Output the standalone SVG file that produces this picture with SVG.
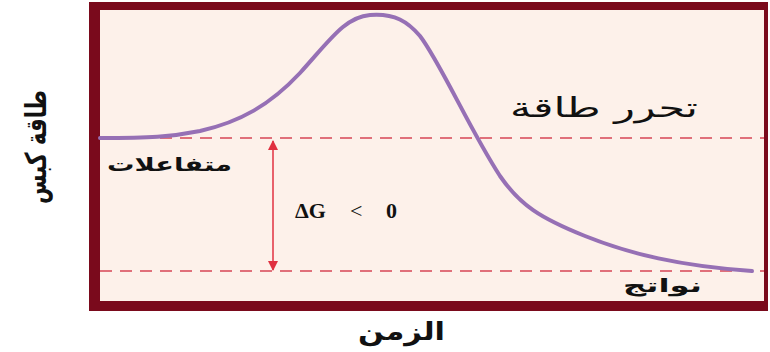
<svg xmlns="http://www.w3.org/2000/svg" width="770" height="352" viewBox="0 0 770 352">
<defs>
<style>
.ar{font-family:"DejaVu Sans","Noto Sans",sans-serif;font-weight:bold;fill:#111}
.dash{stroke:#E0707A;stroke-width:2;stroke-dasharray:12 8;fill:none}
</style>
<marker id="ah" viewBox="0 0 10 10" refX="9" refY="5" markerWidth="10" markerHeight="10" markerUnits="userSpaceOnUse" orient="auto-start-reverse">
<path d="M0,0 L10,5 L0,10 z" fill="#E03040"/>
</marker>
</defs>
<rect width="770" height="352" fill="#fff"/>
<g id="frame">
<rect x="100" y="10" width="664" height="291" fill="#FDF1EA"/>
<path d="M89,2 H768 V311 H89 Z M100,10 V301 H764 V10 Z" fill="#7A0A1C" fill-rule="evenodd"/>
</g>
<g id="levels">
<line class="dash" x1="100" y1="138" x2="764" y2="138"/>
<line class="dash" x1="100" y1="271" x2="764" y2="271"/>
</g>
<g id="curve">
<path d="M100,138 C150,138 170,137 200,131 C240,122 270,105 300,73 C330,40 345,17 370,15 C395,13 408,22 420,36 C440,62 470,130 500,176 C520,205 540,218 585,236 C630,254 680,266 752,271" fill="none" stroke="#9670B5" stroke-width="4" stroke-linecap="round"/>
</g>
<g id="connectors">
<line x1="273" y1="141" x2="273" y2="270" stroke="#E03040" stroke-width="1.5" marker-start="url(#ah)" marker-end="url(#ah)"/>
</g>
<g id="labels">
<text class="ar" x="510" y="117" font-size="27" textLength="188" lengthAdjust="spacingAndGlyphs" style="font-weight:normal">تحرر طاقة</text>
<text class="ar" x="107" y="171" font-size="19" textLength="125" lengthAdjust="spacingAndGlyphs">متفاعلات</text>
<text y="218" font-family="Liberation Serif,serif" font-weight="bold" font-size="22" fill="#111"><tspan x="295">ΔG</tspan><tspan x="350" font-weight="normal">&lt;</tspan><tspan x="386">0</tspan></text>
<text class="ar" x="623" y="292" font-size="19" textLength="79" lengthAdjust="spacingAndGlyphs">نواتج</text>
<text class="ar" x="358" y="340" font-size="25" textLength="87" lengthAdjust="spacingAndGlyphs">الزمن</text>
<text class="ar" transform="translate(46,204) rotate(-90)" font-size="29" textLength="114" lengthAdjust="spacingAndGlyphs">طاقة كبس</text>
</g>
</svg>
